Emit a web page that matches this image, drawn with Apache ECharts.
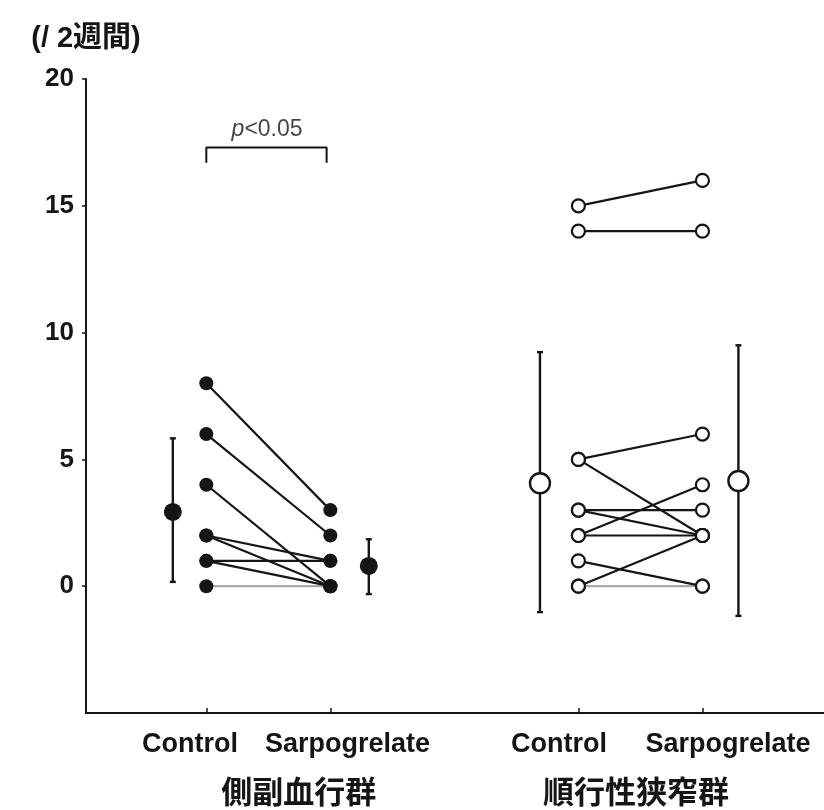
<!DOCTYPE html>
<html><head><meta charset="utf-8">
<script src="https://cdn.jsdelivr.net/npm/echarts@6/dist/echarts.min.js"></script>
<style>html,body{margin:0;padding:0;background:#fff}#c{width:824px;height:810px}</style>
</head><body><div id="c"></div>
<script>
// ---- data ----
const groupNames = ['側副血行群', '順行性狭窄群'];
const condNames = ['Control', 'Sarpogrelate', 'Control', 'Sarpogrelate'];
const yTicks = [0, 5, 10, 15, 20];
const yUnit = '(/ 2週間)';
// group 1 (側副血行群) paired values
const g1Control = [8, 6, 4, 2, 2, 1, 1, 0];
const g1Sarpo   = [3, 2, 0, 1, 0, 1, 0, 0];
// group 2 (順行性狭窄群) paired values
const g2Control = [15, 14, 5, 5, 3, 3, 2, 2, 1, 0, 0];
const g2Sarpo   = [16, 14, 6, 2, 3, 2, 4, 2, 0, 2, 0];
// mean ± SD : [g1 Control, g1 Sarpo, g2 Control, g2 Sarpo]
const meanVals = [2.93, 0.8, 4.06, 4.15];
const sdLow    = [0.17, -0.31, -1.02, -1.17];
const sdHigh   = [5.83, 1.85, 9.23, 9.5];
const sigText = 'p<0.05';
const bracketLow = 16.7, bracketHigh = 17.3;

// ---- layout (x positions on a value axis) ----
const xCond = [1, 2, 4, 5];
const xMean = [0.73, 2.31, 3.69, 5.29];
const xCondLabel = [0.868, 2.138, 3.843, 5.206];
const xGroupLabel = [1.746, 4.464];

const FONT = "'Liberation Sans', 'Noto Sans CJK JP', Arial, sans-serif";
const INK = '#151515';

const chart = echarts.init(document.getElementById('c'), null, {renderer: 'canvas'});

const series = [];
function addPairs(ctrl, sarp, xa, xb, hollow) {
  ctrl.forEach((v, i) => {
    const grey = (v === 0 && sarp[i] === 0);
    series.push({
      type: 'line',
      data: [[xa, v], [xb, sarp[i]]],
      symbol: 'circle',
      symbolSize: hollow ? 13 : 14,
      z: grey ? 2 : 3,
      lineStyle: {color: grey ? '#a8a8a8' : INK, width: 2.2},
      itemStyle: hollow ? {color: '#fff', borderColor: INK, borderWidth: 2.2} : {color: INK, borderWidth: 0},
      emphasis: {disabled: true},
      silent: true,
      animation: false
    });
  });
}
addPairs(g1Control, g1Sarpo, xCond[0], xCond[1], false);
addPairs(g2Control, g2Sarpo, xCond[2], xCond[3], true);

// error bars
series.push({
  type: 'custom',
  data: meanVals.map((m, i) => [xMean[i], m, sdLow[i], sdHigh[i]]),
  z: 4,
  silent: true,
  animation: false,
  renderItem: function (params, api) {
    const x = api.value(0);
    const lo = api.coord([x, api.value(2)]);
    const hi = api.coord([x, api.value(3)]);
    const cap = 3;
    const st = {stroke: INK, lineWidth: 2.4};
    return {type: 'group', children: [
      {type: 'line', shape: {x1: lo[0], y1: lo[1], x2: hi[0], y2: hi[1]}, style: st},
      {type: 'line', shape: {x1: lo[0] - cap, y1: lo[1], x2: lo[0] + cap, y2: lo[1]}, style: st},
      {type: 'line', shape: {x1: hi[0] - cap, y1: hi[1], x2: hi[0] + cap, y2: hi[1]}, style: st}
    ]};
  }
});
// means
series.push({
  type: 'scatter', z: 5, silent: true, animation: false,
  data: meanVals.slice(0, 2).map((m, i) => [xMean[i], m]),
  symbol: 'circle', symbolSize: 18, itemStyle: {color: INK, opacity: 1}
});
series.push({
  type: 'scatter', z: 5, silent: true, animation: false,
  data: meanVals.slice(2).map((m, i) => [xMean[i + 2], m]),
  symbol: 'circle', symbolSize: 20, itemStyle: {color: '#fff', borderColor: INK, borderWidth: 2.4, opacity: 1}
});
// significance bracket
series.push({
  type: 'line', silent: true, animation: false, symbol: 'none', z: 3,
  data: [[xCond[0], bracketLow], [xCond[0], bracketHigh], [xCond[1] - 0.03, bracketHigh], [xCond[1] - 0.03, bracketLow]],
  lineStyle: {color: INK, width: 2}
});
series.push({
  type: 'scatter', silent: true, animation: false, symbolSize: 0, z: 6,
  data: [[(xCond[0] + xCond[1]) / 2 - 0.01, bracketHigh + 0.72]],
  label: {
    show: true, position: 'inside',
    formatter: '{i|p}{n|<0.05}',
    rich: {
      i: {fontFamily: FONT, fontStyle: 'italic', fontSize: 23, color: INK},
      n: {fontFamily: FONT, fontSize: 23, color: INK}
    }
  }
});

function nearestIdx(arr, v) {
  let b = 0;
  arr.forEach((a, i) => { if (Math.abs(a - v) < Math.abs(arr[b] - v)) b = i; });
  return b;
}

chart.setOption({
  animation: false,
  grid: {left: 86, right: 0, top: 79, bottom: 96, containLabel: false},
  xAxis: [{
    type: 'value', min: 0.03, max: 5.98,
    axisLine: {show: true, onZero: false, lineStyle: {color: INK, width: 2}},
    axisTick: {show: true, inside: true, length: 5, customValues: xCond, lineStyle: {color: INK, width: 1.5}},
    axisLabel: {
      show: true, customValues: xCondLabel, margin: 18,
      formatter: v => condNames[nearestIdx(xCondLabel, v)],
      fontFamily: FONT, fontSize: 27, fontWeight: 'bold', color: INK
    },
    splitLine: {show: false}
  }, {
    type: 'value', min: 0.03, max: 5.98, position: 'bottom',
    axisLine: {show: false, onZero: false}, axisTick: {show: false},
    axisLabel: {
      show: true, customValues: xGroupLabel, margin: 66,
      formatter: v => groupNames[nearestIdx(xGroupLabel, v)],
      fontFamily: FONT, fontSize: 31, fontWeight: 'bold', color: INK
    },
    splitLine: {show: false}
  }],
  yAxis: {
    type: 'value', min: -5, max: 20, interval: 5,
    name: yUnit, nameLocation: 'end', nameGap: 25,
    nameTextStyle: {fontFamily: FONT, fontSize: 29, fontWeight: 'bold', color: INK, align: 'center'},
    axisLine: {show: true, lineStyle: {color: INK, width: 2}},
    axisTick: {show: true, length: 4, customValues: yTicks, lineStyle: {color: INK, width: 1.5}},
    axisLabel: {
      margin: 12, fontFamily: FONT, fontSize: 26, fontWeight: 'bold', color: INK,
      formatter: v => (yTicks.indexOf(v) >= 0 ? String(v) : '')
    },
    splitLine: {show: false}
  },
  series: series
});
</script>
</body></html>
